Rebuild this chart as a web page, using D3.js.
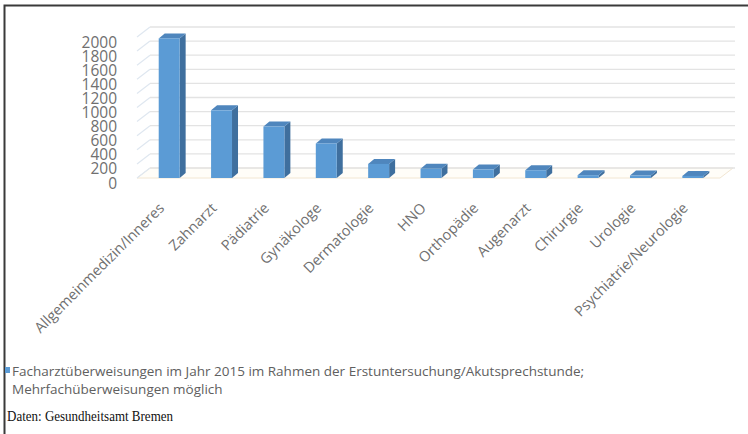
<!DOCTYPE html>
<html><head><meta charset="utf-8">
<script src="https://cdn.jsdelivr.net/npm/d3@7"></script>
<style>html,body{margin:0;padding:0;background:#fff;}svg{display:block;}</style>
</head><body>
<svg id="c" width="748" height="434"></svg>
<script>
const categories = ["Allgemeinmedizin/Inneres","Zahnarzt","Pädiatrie","Gynäkologe","Dermatologie","HNO","Orthopädie","Augenarzt","Chirurgie","Urologie","Psychiatrie/Neurologie"];
const values = [1980, 960, 730, 490, 200, 130, 120, 110, 40, 35, 30];
const yTicks = [0,200,400,600,800,1000,1200,1400,1600,1800,2000];
const legendLines = ["Facharztüberweisungen im Jahr 2015 im Rahmen der Erstuntersuchung/Akutsprechstunde;","Mehrfachüberweisungen möglich"];
const sourceText = "Daten: Gesundheitsamt Bremen";

const svg = d3.select("#c");
const y = d3.scaleLinear().domain([0,2000]).range([178,37]);
const x = d3.scaleBand().domain(categories).range([143,719]).paddingInner(0.6).paddingOuter(0.3);
const wallDx = 13, wallDy = -10;
const bDx = 6, bDy = -5;

// frame
svg.append("path").attr("d","M4.5,434 V5.5 H748").attr("fill","none").attr("stroke","#3a3a3a").attr("stroke-width",2);

// floor
const x0 = 137, x1 = 720;
svg.append("path")
  .attr("d",`M${x0},${y(0)} L${x1},${y(0)} L${x1+wallDx},${y(0)+wallDy} L${x0+wallDx},${y(0)+wallDy} Z`)
  .attr("fill","#fffdf8").attr("stroke","#f2e6d2").attr("stroke-width",1);

// back wall gridlines
svg.append("g").selectAll("line").data(yTicks).join("line")
  .attr("x1",x0+wallDx).attr("x2",x1+wallDx+2)
  .attr("y1",d=>y(d)+wallDy).attr("y2",d=>y(d)+wallDy)
  .attr("stroke","#e3e3e3").attr("stroke-width",1.3);
// side wall diagonals
svg.append("g").selectAll("line").data(yTicks).join("line")
  .attr("x1",x0).attr("x2",x0+wallDx)
  .attr("y1",d=>y(d)).attr("y2",d=>y(d)+wallDy)
  .attr("stroke","#dfe7f0").attr("stroke-width",1.2);

// y labels
svg.append("g").selectAll("text").data(yTicks).join("text")
  .attr("x",117).attr("y",d=>y(d)+5).attr("dy","0.36em")
  .attr("text-anchor","end")
  .attr("font-family","'Open Sans', sans-serif").attr("font-size",15.5)
  .attr("fill","#707070")
  .text(d=>d);

// bars
const g = svg.append("g");
categories.forEach((c,i)=>{
  const v = values[i];
  const bx = x(c), bw = x.bandwidth(), top = y(v), bot = y(0);
  g.append("path").attr("d",`M${bx+bw},${top} L${bx+bw+bDx},${top+bDy} L${bx+bw+bDx},${bot+bDy} L${bx+bw},${bot} Z`)
    .attr("fill","#3f6f9e");
  g.append("path").attr("d",`M${bx},${top} L${bx+bDx},${top+bDy} L${bx+bw+bDx},${top+bDy} L${bx+bw},${top} Z`)
    .attr("fill","#4f86bd");
  g.append("rect").attr("x",bx).attr("y",top).attr("width",bw).attr("height",bot-top)
    .attr("fill","#5b9bd5");
});

// x labels
svg.append("g").selectAll("text").data(categories).join("text")
  .attr("transform",d=>`translate(${x(d)+x.bandwidth()/2-4},${209}) rotate(-45)`)
  .attr("text-anchor","end")
  .attr("font-family","'Open Sans', sans-serif").attr("font-size",14.5)
  .attr("fill","#707070")
  .text(d=>d);

// legend
svg.append("rect").attr("x",5).attr("y",367).attr("width",5).attr("height",6).attr("fill","#5b9bd5");
svg.append("g").selectAll("text").data(legendLines).join("text")
  .attr("x",12).attr("y",(d,i)=>376+i*18)
  .attr("font-family","'Open Sans', sans-serif").attr("font-size",13.5)
  .attr("fill","#606060")
  .text(d=>d);

// source
svg.append("text").attr("x",7).attr("y",421)
  .attr("font-family","'Liberation Serif', serif").attr("font-size",14)
  .attr("textLength",166).attr("lengthAdjust","spacingAndGlyphs")
  .attr("fill","#111").text(sourceText);
</script>
</body></html>
